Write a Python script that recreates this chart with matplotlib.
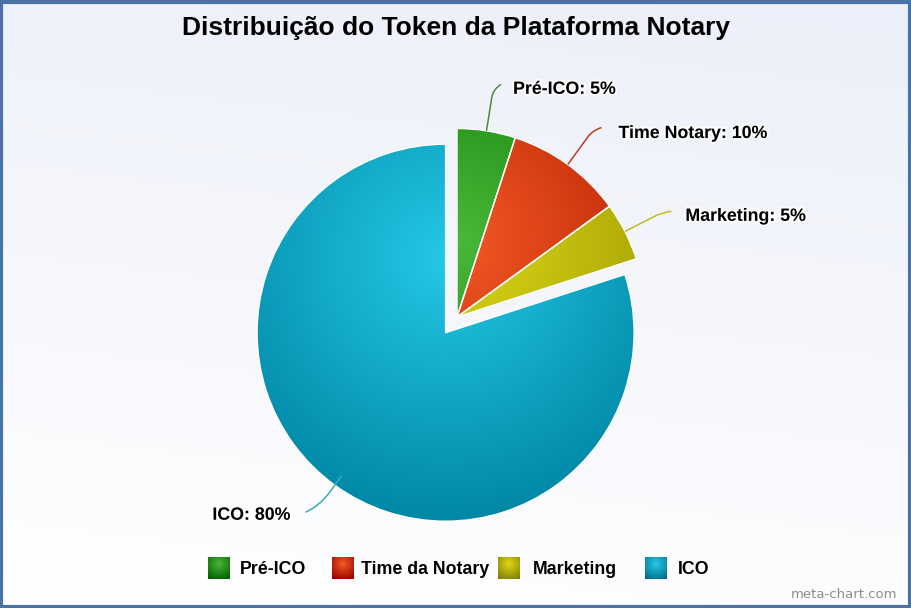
import numpy as np
import matplotlib
matplotlib.use("Agg")
import matplotlib.pyplot as plt
from matplotlib.patches import Rectangle, PathPatch
from matplotlib.path import Path
import matplotlib.patheffects as pe
from matplotlib.colors import to_rgb

# ---------------- data ----------------
categories = ["Pré-ICO", "Time Notary", "Marketing", "ICO"]
legend_labels = ["Pré-ICO", "Time da Notary", "Marketing", "ICO"]
values = [5, 10, 5, 80]
base_colors = ["#4ab83a", "#f25a26", "#dcd818", "#24c8e6"]
title = "Distribuição do Token da Plataforma Notary"
watermark = "meta-chart.com"

# ---------------- layout ----------------
W, H = 912, 608
FONT = "Liberation Sans"


def py(y):
    return H - y


def darker(c, amt=64 / 255):
    r, g, b = to_rgb(c)
    return (max(r - amt, 0), max(g - amt, 0), max(b - amt, 0))


fig = plt.figure(figsize=(W / 100, H / 100), dpi=100)
ax = fig.add_axes([0, 0, 1, 1])

# background gradient
yy, xx = np.mgrid[0:H:2, 0:W:2]
t = 0.85 * (yy / H) + 0.15 * (xx / W)
c0 = np.array([1.0, 1.0, 1.0])
c1 = np.array(to_rgb("#eceff9"))
bg = c0[None, None, :] * (1 - t[..., None]) + c1[None, None, :] * t[..., None]
ax.imshow(bg, extent=[0, W, H, 0], origin="upper", zorder=0, aspect="auto",
          interpolation="bilinear")

# pie
r = 188.5
pie_center = (457, py(317))
explode = [0, 0, 0, 19.4]
wedges, _ = ax.pie(values, startangle=90, counterclock=False, radius=r,
                   center=pie_center, explode=explode, colors=base_colors,
                   wedgeprops=dict(linewidth=1.0, edgecolor="white"))

n = 300
for w, col in zip(wedges, base_colors):
    wc = w.center
    gcx, gcy = wc[0], wc[1] + 0.2 * 2 * r
    R = 0.7 * 2 * r
    xs = np.linspace(wc[0] - r, wc[0] + r, n)
    ys = np.linspace(wc[1] - r, wc[1] + r, n)
    X, Y = np.meshgrid(xs, ys)
    d = np.clip(np.hypot(X - gcx, Y - gcy) / R, 0, 1)
    lc = np.array(to_rgb(col))
    dc = np.array(darker(col))
    img = lc[None, None, :] * (1 - d[..., None]) + dc[None, None, :] * d[..., None]
    im = ax.imshow(img, extent=[wc[0] - r, wc[0] + r, wc[1] - r, wc[1] + r],
                   origin="lower", zorder=2, aspect="auto", interpolation="bilinear")
    im.set_clip_path(w)
    w.set_facecolor("none")
    w.set_zorder(3)

# data labels with connectors
# (start radius offset, straight length, control length, end offset dx,dy (screen px), label gap)
conn = [
    (0, 34, 42, (8, -5), (12, 5)),
    (0, 34, 42, (9, -3), (17, 6)),
    (0, 34, 42, (9, -1), (14, 5)),
    (-12, 8, 26, (-14, 6), (-15, 3)),
]
conn_colors = ["#4f8a3c", "#b8401e", "#c0bc22", "#3aaab8"]
tot = float(sum(values))
acc = 0.0
for i, (w, cat, v) in enumerate(zip(wedges, categories, values)):
    mid = (acc + v / 2) / tot * 360.0
    acc += v
    ang = np.deg2rad(mid)
    dx, dy = np.sin(ang), -np.cos(ang)  # screen direction (y down)
    cxs, cys = w.center[0], H - w.center[1]
    s0, L1, L2, (ex, ey), (gx, gy) = conn[i]
    p0 = (cxs + dx * (r + s0), cys + dy * (r + s0))
    p1 = (cxs + dx * (r + L1), cys + dy * (r + L1))
    p2 = (cxs + dx * (r + L2), cys + dy * (r + L2))
    p3 = (p2[0] + ex, p2[1] + ey)
    verts = [(x, py(y)) for x, y in (p0, p1, p2, p3)]
    path = Path(verts, [Path.MOVETO, Path.LINETO, Path.CURVE3, Path.CURVE3])
    ax.add_patch(PathPatch(path, facecolor="none", edgecolor=conn_colors[i],
                           linewidth=1.1, zorder=4))
    ha = "left" if dx >= 0 else "right"
    ax.text(p3[0] + gx, py(p3[1] + gy), f"{cat}: {v}%", ha=ha, va="center",
            fontsize=12.8, fontweight="bold", family=FONT, color="black", zorder=5,
            path_effects=[pe.withStroke(linewidth=3, foreground="white", alpha=0.8)])

# title
ax.text(456, py(28), title, ha="center", va="center", fontsize=19,
        fontweight="bold", family=FONT, color="black", zorder=5)

# legend
sq_x = [208, 332, 498, 645]
txt_x = [240, 361, 533, 678]
sq = 22
ly = 568
for i, (lab, col) in enumerate(zip(legend_labels, base_colors)):
    x0 = sq_x[i]
    rect = Rectangle((x0, py(ly + sq / 2)), sq, sq, facecolor="none",
                     edgecolor="none", zorder=3)
    ax.add_patch(rect)
    xs = np.linspace(x0, x0 + sq, 40)
    ys = np.linspace(py(ly + sq / 2), py(ly - sq / 2), 40)
    X, Y = np.meshgrid(xs, ys)
    gcx, gcy = x0 + sq / 2, py(ly) + 0.2 * sq
    d = np.clip(np.hypot(X - gcx, Y - gcy) / (0.8 * sq), 0, 1)
    lc = np.array(to_rgb(col))
    dc = np.array(darker(col, 90 / 255))
    img = lc[None, None, :] * (1 - d[..., None]) + dc[None, None, :] * d[..., None]
    im = ax.imshow(img, extent=[x0, x0 + sq, py(ly + sq / 2), py(ly - sq / 2)],
                   origin="lower", zorder=2, aspect="auto", interpolation="bilinear")
    im.set_clip_path(rect)
    ax.text(txt_x[i], py(ly + 1), lab, ha="left", va="center", fontsize=12.8,
            fontweight="bold", family=FONT, color="black", zorder=5)

# watermark
ax.text(897, py(595), watermark, ha="right", va="center", fontsize=9.5,
        family="DejaVu Sans", color="#8c8c8c", zorder=5)

# border
ax.add_patch(Rectangle((1.5, 1.5), W - 3.5, H - 3.5, facecolor="none",
                       edgecolor="#4a72a4", linewidth=3.0, zorder=6))

ax.set_xlim(0, W)
ax.set_ylim(0, H)
ax.set_aspect("auto")
ax.axis("off")
fig.savefig("out.png", dpi=100)
